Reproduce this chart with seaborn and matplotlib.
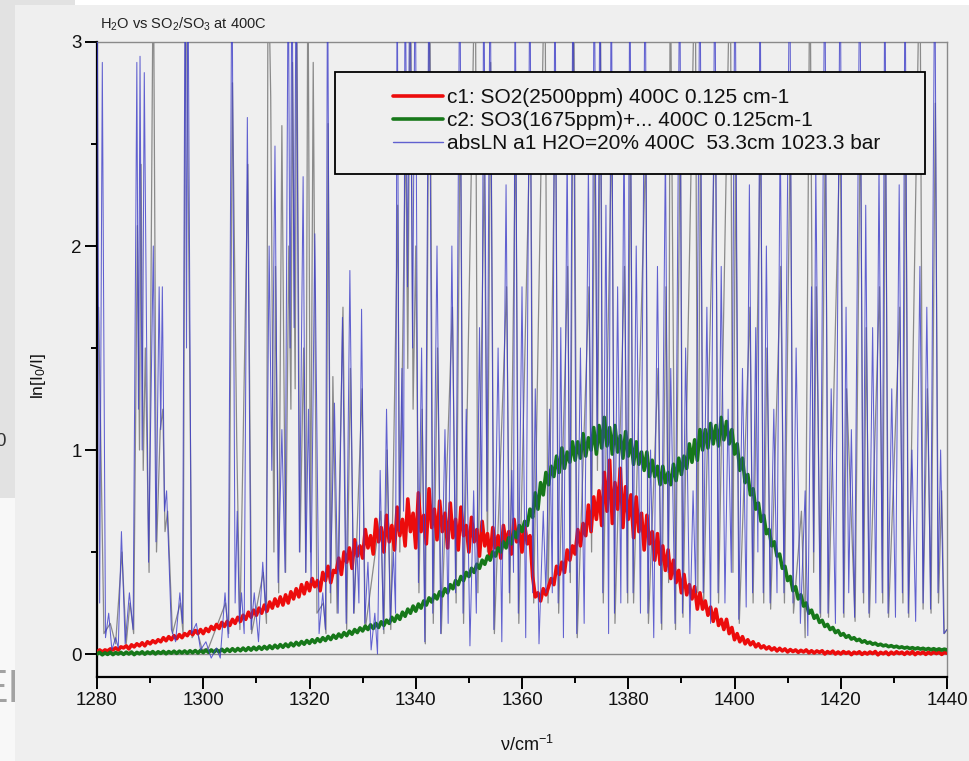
import numpy as np
import pandas as pd
import matplotlib
matplotlib.use("Agg")
import matplotlib.pyplot as plt
import seaborn as sns
from matplotlib.patches import Rectangle
from matplotlib.lines import Line2D
from matplotlib.ticker import MultipleLocator

# ---------------- data ----------------
wn_first, wn_step = 1280.0, 0.5   # sampling grid of the SO2 / SO3 traces

so2_abs = [
    0.01,0.02,0.01,0.02,0.015,0.025,0.02,0.03,0.02,0.035,
    0.03,0.04,0.025,0.045,0.035,0.05,0.04,0.055,0.04,0.06,
    0.05,0.065,0.055,0.07,0.06,0.08,0.065,0.085,0.07,0.09,
    0.075,0.095,0.08,0.1,0.09,0.11,0.095,0.115,0.1,0.12,
    0.1,0.125,0.11,0.135,0.12,0.145,0.125,0.155,0.135,0.16,
    0.14,0.17,0.15,0.18,0.16,0.19,0.17,0.205,0.18,0.215,
    0.19,0.225,0.2,0.24,0.21,0.255,0.225,0.27,0.235,0.28,
    0.24,0.29,0.25,0.305,0.27,0.32,0.28,0.34,0.295,0.35,
    0.31,0.37,0.33,0.36,0.31,0.40,0.36,0.43,0.35,0.41,
    0.40,0.47,0.39,0.50,0.45,0.52,0.42,0.56,0.48,0.53,
    0.47,0.61,0.52,0.58,0.49,0.66,0.55,0.62,0.50,0.68,
    0.55,0.63,0.51,0.72,0.58,0.66,0.53,0.76,0.60,0.69,
    0.52,0.79,0.60,0.68,0.54,0.81,0.62,0.71,0.56,0.75,
    0.60,0.69,0.52,0.74,0.57,0.66,0.51,0.72,0.58,0.63,
    0.50,0.67,0.55,0.61,0.48,0.65,0.53,0.59,0.47,0.62,
    0.52,0.58,0.47,0.63,0.54,0.60,0.49,0.66,0.55,0.61,
    0.50,0.63,0.54,0.58,0.38,0.28,0.30,0.26,0.32,0.29,
    0.33,0.37,0.34,0.43,0.39,0.45,0.40,0.51,0.46,0.53,
    0.49,0.61,0.53,0.64,0.58,0.73,0.60,0.77,0.66,0.80,
    0.63,0.89,0.70,0.95,0.64,0.84,0.71,0.91,0.62,0.82,
    0.66,0.78,0.57,0.77,0.60,0.69,0.51,0.68,0.54,0.60,
    0.46,0.59,0.44,0.53,0.41,0.51,0.37,0.46,0.35,0.41,
    0.30,0.39,0.29,0.34,0.27,0.33,0.22,0.30,0.22,0.26,
    0.19,0.23,0.16,0.22,0.14,0.17,0.12,0.17,0.10,0.13,
    0.07,0.10,0.06,0.085,0.05,0.07,0.045,0.06,0.035,0.05,
    0.03,0.04,0.025,0.035,0.02,0.03,0.015,0.028,0.015,0.025,
    0.01,0.022,0.012,0.02,0.008,0.018,0.01,0.02,0.006,0.016,
    0.005,0.015,0.008,0.016,0.0,0.012,0.004,0.014,0.0,0.01,
    0.0,0.012,0.003,0.01,-0.003,0.009,0.002,0.011,-0.002,0.008,
    0.0,0.01,0.002,0.012,-0.004,0.008,0.001,0.01,-0.003,0.009,
    0.0,0.011,0.002,0.009,-0.002,0.01,0.0,0.012,-0.003,0.008,
    0.001,0.01,-0.002,0.009,0.0,0.011,0.002,0.01,-0.002,0.008,
    0.004,
]

so3_abs = [
    0.0,0.008,-0.004,0.006,-0.002,0.009,-0.003,0.007,0.0,0.008,
    -0.002,0.009,0.0,0.01,-0.003,0.008,0.001,0.011,-0.001,0.01,
    0.002,0.012,0.0,0.011,0.003,0.013,0.001,0.012,0.004,0.014,
    0.003,0.014,0.005,0.015,0.004,0.016,0.006,0.017,0.005,0.018,
    0.007,0.019,0.008,0.02,0.009,0.021,0.01,0.023,0.011,0.024,
    0.013,0.026,0.014,0.027,0.016,0.029,0.017,0.031,0.019,0.033,
    0.021,0.035,0.023,0.037,0.025,0.04,0.027,0.043,0.03,0.046,
    0.033,0.049,0.036,0.053,0.04,0.057,0.044,0.061,0.048,0.066,
    0.052,0.07,0.056,0.075,0.061,0.08,0.066,0.086,0.071,0.092,
    0.077,0.098,0.083,0.105,0.09,0.112,0.097,0.12,0.105,0.128,
    0.113,0.137,0.12,0.143,0.125,0.15,0.13,0.158,0.14,0.166,
    0.15,0.18,0.16,0.19,0.17,0.205,0.185,0.22,0.2,0.235,
    0.21,0.245,0.225,0.26,0.24,0.275,0.255,0.29,0.27,0.305,
    0.285,0.32,0.30,0.34,0.32,0.36,0.34,0.38,0.36,0.40,
    0.38,0.42,0.40,0.44,0.42,0.46,0.44,0.48,0.46,0.50,
    0.48,0.52,0.50,0.55,0.52,0.57,0.54,0.60,0.57,0.63,
    0.60,0.65,0.63,0.71,0.67,0.79,0.71,0.84,0.78,0.89,
    0.83,0.92,0.87,0.97,0.89,1.01,0.91,0.99,0.94,1.04,
    0.95,1.04,0.96,1.08,0.97,1.06,1.0,1.11,0.98,1.12,
    1.01,1.16,1.02,1.11,0.98,1.12,0.99,1.07,0.96,1.09,
    0.97,1.05,0.93,1.04,0.93,0.99,0.9,0.99,0.87,0.95,
    0.87,0.92,0.83,0.92,0.84,0.89,0.83,0.93,0.85,0.96,
    0.88,0.97,0.91,1.03,0.94,1.05,0.95,1.1,1.0,1.1,
    1.01,1.13,1.03,1.12,1.02,1.16,1.05,1.14,1.03,1.1,
    0.98,1.03,0.9,0.96,0.84,0.88,0.78,0.81,0.71,0.74,
    0.65,0.68,0.59,0.61,0.53,0.55,0.48,0.49,0.42,0.43,
    0.36,0.38,0.31,0.33,0.27,0.29,0.235,0.25,0.2,0.215,
    0.175,0.19,0.155,0.165,0.135,0.145,0.12,0.13,0.105,0.115,
    0.092,0.1,0.082,0.09,0.073,0.08,0.066,0.072,0.058,0.065,
    0.053,0.058,0.048,0.053,0.043,0.048,0.04,0.044,0.036,0.041,
    0.034,0.038,0.031,0.035,0.029,0.033,0.027,0.031,0.025,0.03,
    0.024,0.028,0.022,0.027,0.021,0.026,0.02,0.025,0.019,0.024,
    0.02,
]

# H2O spectrum (blue, in legend): vertices (wavenumber, ln(I0/I)), peaks and valleys
h2o_blue = [
    (1280.0,3.5),(1280.5,0.25),(1281.0,2.9),(1281.6,0.08),(1282.2,0.2),(1282.8,0.02),
    (1283.5,0.08),(1284.0,0.03),(1284.6,0.6),(1285.3,0.05),(1286.1,0.3),(1286.8,0.12),
    (1287.5,2.9),(1287.8,1.2),(1288.1,2.93),(1288.5,1.0),(1288.9,2.85),(1289.7,0.45),
    (1290.6,2.0),(1291.1,0.55),(1291.7,1.8),(1292.0,1.1),(1292.3,1.8),(1292.7,0.7),
    (1293.1,0.8),(1294.0,0.12),(1294.8,0.06),(1295.6,0.3),(1296.1,0.15),(1296.6,3.5),
    (1296.85,1.5),(1297.1,3.5),(1297.8,0.1),(1298.7,0.15),(1299.5,0.02),(1300.5,0.06),
    (1301.5,-0.02),(1302.5,0.03),(1303.2,-0.02),(1304.1,0.3),(1304.7,0.08),(1305.4,3.5),
    (1306.0,0.25),(1306.4,0.7),(1306.8,0.15),(1307.2,0.3),(1307.7,0.1),(1308.3,2.63),
    (1309.0,0.12),(1309.6,0.3),(1310.4,0.06),(1311.2,0.45),(1311.8,0.2),(1312.4,2.0),
    (1312.9,0.9),(1313.5,2.49),(1314.1,0.35),(1314.8,1.1),(1315.4,0.4),(1316.0,3.5),
    (1316.35,1.5),(1316.7,3.5),(1317.1,1.6),(1317.5,3.5),(1318.1,0.5),(1318.8,2.34),
    (1319.3,0.4),(1319.8,1.2),(1320.3,0.35),(1321.0,2.06),(1321.8,0.1),(1322.5,0.3),
    (1323.0,0.12),(1323.4,3.5),(1323.9,0.3),(1324.7,1.23),(1325.4,0.2),(1326.2,1.65),
    (1326.9,0.15),(1327.6,1.88),(1328.3,0.2),(1328.9,0.55),(1329.3,0.25),(1329.8,1.69),
    (1330.4,0.15),(1331.0,0.45),(1331.6,0.02),(1332.3,0.2),(1332.8,0.0),(1333.3,0.9),
    (1333.9,0.12),(1334.5,1.2),(1335.2,0.15),(1335.8,0.5),(1336.2,0.2),(1336.5,3.5),
    (1336.9,0.6),(1337.4,1.4),(1337.7,0.7),(1338.0,3.5),(1338.45,1.8),(1338.9,3.5),
    (1339.4,1.5),(1339.9,3.5),(1340.5,0.35),(1341.1,1.5),(1341.7,0.06),(1342.5,3.5),
    (1343.2,0.2),(1344.0,2.0),(1344.7,0.1),(1345.5,1.1),(1346.1,0.15),(1346.8,2.0),
    (1347.5,0.3),(1348.3,3.5),(1348.9,0.2),(1349.5,1.2),(1350.2,0.04),(1350.9,0.8),
    (1351.4,0.2),(1352.0,1.6),(1352.4,0.6),(1352.8,3.5),(1353.4,0.7),(1354.0,3.5),
    (1354.7,0.12),(1355.5,1.5),(1356.2,0.06),(1357.0,2.3),(1357.6,0.3),(1358.1,0.9),
    (1358.4,0.4),(1358.7,3.5),(1359.3,0.2),(1360.0,1.8),(1360.7,0.08),(1361.5,3.5),
    (1362.0,0.3),(1362.5,1.3),(1363.2,0.05),(1364.0,0.7),(1364.5,0.3),(1365.2,1.2),
    (1365.7,0.3),(1366.2,3.5),(1366.8,0.25),(1367.3,1.6),(1367.8,0.08),(1368.5,2.5),
    (1369.0,0.4),(1369.6,3.5),(1370.3,0.1),(1371.0,1.5),(1371.7,0.15),(1372.5,2.4),
    (1373.05,0.6),(1373.6,3.5),(1374.15,1.0),(1374.7,3.5),(1375.2,0.3),(1375.8,2.2),
    (1376.3,0.1),(1376.8,3.5),(1377.4,0.2),(1378.0,1.8),(1378.6,0.25),(1379.2,2.6),
    (1379.8,0.3),(1380.3,3.5),(1380.9,0.3),(1381.5,2.0),(1382.3,0.2),(1383.2,3.5),
    (1383.7,0.2),(1384.2,1.0),(1384.8,0.08),(1385.5,1.9),(1386.2,0.15),(1387.0,2.5),
    (1387.5,0.4),(1388.0,1.4),(1388.8,0.15),(1389.7,3.5),(1390.2,0.2),(1390.8,1.5),
    (1391.6,0.1),(1392.2,0.8),(1392.7,0.3),(1393.5,3.5),(1394.1,0.3),(1394.8,1.7),
    (1395.5,0.15),(1396.3,3.5),(1396.9,0.3),(1397.5,1.9),(1398.2,0.25),(1398.8,1.2),
    (1399.4,0.4),(1400.1,3.5),(1400.8,0.17),(1401.5,1.4),(1402.2,0.23),(1402.8,2.3),
    (1403.4,0.3),(1404.0,1.6),(1404.4,0.5),(1404.8,3.5),(1405.4,0.3),(1406.0,2.0),
    (1406.7,0.25),(1407.4,1.2),(1408.0,0.3),(1408.6,2.6),(1409.3,0.3),(1410.4,3.5),
    (1411.0,0.25),(1411.6,1.5),(1412.4,0.15),(1413.3,0.8),(1413.8,0.09),(1414.5,1.8),
    (1414.9,0.5),(1415.3,2.4),(1416.1,0.2),(1417.0,3.5),(1417.6,0.2),(1418.2,1.3),
    (1419.0,0.15),(1419.9,3.5),(1420.5,0.2),(1421.0,1.7),(1421.5,0.3),(1422.0,1.1),
    (1422.6,0.18),(1423.6,3.5),(1424.2,0.3),(1424.7,2.2),(1425.3,0.2),(1426.0,1.6),
    (1426.6,0.25),(1427.2,2.4),(1427.8,0.3),(1428.3,3.5),(1428.9,0.2),(1429.6,1.3),
    (1430.3,0.18),(1431.0,2.3),(1431.6,0.3),(1432.1,3.5),(1432.7,0.2),(1433.4,1.0),
    (1434.1,0.16),(1434.9,1.9),(1435.5,0.25),(1436.2,1.7),(1436.9,0.22),(1437.7,3.5),
    (1438.3,0.3),(1438.8,1.0),(1439.4,0.1),(1440.0,0.12),
]

# companion H2O trace drawn in grey (not in legend)
h2o_grey = [
    (1280.3,1.7),(1281.3,0.1),(1282.5,0.15),(1283.5,0.05),(1284.7,0.5),(1285.5,0.05),
    (1286.2,0.25),(1286.9,0.1),(1287.6,2.1),(1288.0,1.0),(1288.3,2.4),(1288.7,0.9),
    (1289.1,1.5),(1289.8,0.4),(1290.6,3.5),(1291.2,0.5),(1291.9,1.1),(1292.4,1.2),
    (1292.8,0.6),(1293.3,0.7),(1294.2,0.1),(1295.7,0.25),(1296.2,0.1),(1296.7,3.5),
    (1297.2,2.2),(1297.9,0.08),(1298.8,0.12),(1299.8,0.02),(1301.0,0.03),(1304.2,0.25),
    (1304.8,0.1),(1305.5,2.8),(1306.3,1.05),(1306.9,0.12),(1308.4,2.4),(1309.1,0.1),
    (1311.3,0.4),(1311.9,0.15),(1312.2,3.5),(1312.7,2.73),(1313.3,0.5),(1313.6,1.9),
    (1314.2,0.3),(1314.8,2.59),(1315.5,0.4),(1316.1,2.0),(1316.5,1.2),(1316.8,2.9),
    (1317.3,1.3),(1317.6,3.2),(1318.2,0.5),(1318.9,1.5),(1319.3,0.4),(1319.7,3.5),
    (1320.2,0.5),(1320.7,2.9),(1321.4,0.2),(1322.6,0.25),(1323.1,0.1),(1323.5,2.6),
    (1324.0,0.25),(1324.4,1.36),(1325.2,0.2),(1326.3,1.7),(1327.0,0.12),(1327.7,1.4),
    (1328.4,0.2),(1329.9,1.3),(1330.5,0.12),(1333.4,0.7),(1334.0,0.1),(1334.6,1.0),
    (1335.3,0.12),(1336.6,2.2),(1337.0,0.5),(1338.1,2.6),(1338.5,1.4),(1339.0,3.5),
    (1339.5,1.2),(1340.0,2.0),(1340.6,0.3),(1341.2,1.2),(1341.8,0.05),(1342.6,3.5),
    (1343.3,0.15),(1344.1,1.5),(1344.8,0.1),(1346.9,1.7),(1347.6,0.25),(1348.4,2.8),
    (1349.0,0.15),(1351.2,3.5),(1351.7,0.3),(1352.9,2.4),(1353.5,0.5),(1354.1,2.9),
    (1354.8,0.1),(1357.1,1.8),(1357.7,0.25),(1358.8,2.6),(1359.4,0.15),(1361.6,2.7),
    (1362.2,0.25),(1364.3,3.5),(1364.9,0.25),(1366.3,2.8),(1366.9,0.2),(1368.6,1.9),
    (1369.1,0.35),(1369.7,3.5),(1370.4,0.08),(1372.6,1.8),(1373.1,0.5),(1373.7,2.7),
    (1374.2,0.9),(1374.8,3.0),(1375.3,0.25),(1376.9,2.6),(1377.5,0.15),(1379.3,1.9),
    (1379.9,0.25),(1380.4,2.7),(1381.0,0.25),(1383.3,2.5),(1383.8,0.15),(1385.6,1.4),
    (1386.3,0.12),(1387.1,1.8),(1387.6,0.35),(1387.9,3.5),(1388.9,0.12),(1389.8,2.7),
    (1390.3,0.18),(1392.6,3.5),(1393.1,0.3),(1393.6,2.6),(1394.2,0.25),(1396.4,2.7),
    (1397.0,0.25),(1399.2,3.5),(1399.7,0.4),(1400.2,2.5),(1400.9,0.15),(1402.9,1.7),
    (1403.5,0.25),(1404.9,2.6),(1405.5,0.25),(1406.1,1.5),(1406.8,0.22),(1408.7,1.9),
    (1409.4,0.25),(1410.5,2.6),(1411.1,0.2),(1412.6,0.7),(1413.3,0.08),(1414.2,3.5),
    (1414.9,0.4),(1415.4,1.8),(1416.2,0.18),(1417.1,2.6),(1417.7,0.18),(1419.9,2.6),
    (1420.6,0.18),(1421.1,1.3),(1422.7,0.16),(1423.7,2.7),(1424.3,0.25),(1424.8,1.6),
    (1425.4,0.18),(1427.3,1.8),(1427.9,0.25),(1428.4,2.7),(1429.0,0.18),(1431.1,1.7),
    (1431.7,0.25),(1432.2,2.7),(1432.8,0.18),(1434.9,3.5),(1435.5,0.22),(1436.3,1.3),
    (1437.0,0.2),(1437.8,2.7),(1438.4,0.25),(1439.0,0.8),(1439.5,0.1),(1440.0,0.12),
]

legend_labels = [
    "c1: SO2(2500ppm) 400C 0.125 cm-1",
    "c2: SO3(1675ppm)+... 400C 0.125cm-1",
    "absLN a1 H2O=20% 400C  53.3cm 1023.3 bar",
]
x_ticks_major, x_ticks_minor = 20, 10
y_ticks_major, y_ticks_minor = 1, 0.5

# ---------------- style ----------------
sns.set_theme(style="ticks")
plt.rcParams["font.family"] = ["Liberation Sans", "DejaVu Sans"]
plt.rcParams["mathtext.fontset"] = "custom"
plt.rcParams["mathtext.rm"] = "Liberation Sans"
plt.rcParams["mathtext.it"] = "Liberation Sans:italic"
plt.rcParams["mathtext.bf"] = "Liberation Sans:bold"
plt.rcParams["axes.unicode_minus"] = False

BG = "#efefef"
RED = "#ec0c0c"
GREEN = "#17781a"
BLUE = "#3c3cc8"
GREY = "#8a8a8a"

W, H = 970, 761
fig = plt.figure(figsize=(W / 100, H / 100), dpi=100, facecolor=BG)


def fx(px):
    return px / W


def fy(py):
    return 1 - py / H


def fig_rect(x0, y0, x1, y1, **kw):
    r = Rectangle((fx(x0), fy(y1)), (x1 - x0) / W, (y1 - y0) / H,
                  transform=fig.transFigure, **kw)
    fig.patches.append(r)
    return r


# screenshot surroundings
fig_rect(0, 0, 15, 498, fc="#e2e2e2", ec="none", zorder=-5)
fig_rect(0, 0, 75, 5, fc="#e2e2e2", ec="none", zorder=-5)
fig_rect(75, 0, 970, 5, fc="white", ec="none", zorder=-5)
fig_rect(0, 498, 15, 761, fc="#f8f8f8", ec="none", zorder=-5)
fig.text(fx(-23), fy(702), "EN", fontsize=33, color="#a2a2a2", va="baseline",
         ha="left", zorder=-4)
fig.text(fx(6), fy(442), "0", fontsize=13.5, color="#333333", va="center",
         ha="right", zorder=-4)
fig_rect(15, 498, 970, 761, fc=BG, ec="none", zorder=-3)

# axes
ax = fig.add_axes([fx(97), fy(677), 850 / W, 635 / H])
ax.set_facecolor(BG)

grid = wn_first + wn_step * np.arange(len(so2_abs))
df_so2 = pd.DataFrame({"wn": grid, "absorbance": so2_abs})
df_so3 = pd.DataFrame({"wn": grid, "absorbance": so3_abs})
df_blue = pd.DataFrame(h2o_blue, columns=["wn", "absorbance"])
df_grey = pd.DataFrame(h2o_grey, columns=["wn", "absorbance"])

ax.axhline(0, color=GREY, lw=1.0, zorder=1)
sns.lineplot(data=df_grey, x="wn", y="absorbance", ax=ax, color=GREY, lw=0.9,
             estimator=None, sort=False, zorder=2, legend=False)
sns.lineplot(data=df_so2, x="wn", y="absorbance", ax=ax, color=RED, lw=2.6,
             estimator=None, sort=False, zorder=3, legend=False)
sns.lineplot(data=df_so3, x="wn", y="absorbance", ax=ax, color=GREEN, lw=2.6,
             estimator=None, sort=False, zorder=4, legend=False)
sns.lineplot(data=df_blue, x="wn", y="absorbance", ax=ax, color=BLUE, lw=0.75,
             estimator=None, sort=False, zorder=5, legend=False, alpha=0.8)

ax.set_xlim(1280, 1440)
ax.set_ylim(-0.1127, 3.0)
ax.xaxis.set_major_locator(MultipleLocator(x_ticks_major))
ax.xaxis.set_minor_locator(MultipleLocator(x_ticks_minor))
ax.yaxis.set_major_locator(MultipleLocator(y_ticks_major))
ax.yaxis.set_minor_locator(MultipleLocator(y_ticks_minor))
ax.tick_params(which="major", direction="out", length=8.6, width=1.4,
               labelsize=13.5, pad=2.5, color="black", labelcolor="#111111")
ax.tick_params(which="minor", direction="out", length=4.3, width=1.4, color="black")
ax.tick_params(axis="both", which="both", top=False, right=False)

for side in ("left", "bottom"):
    ax.spines[side].set_color("black")
    ax.spines[side].set_linewidth(1.6)
for side in ("top", "right"):
    ax.spines[side].set_color(GREY)
    ax.spines[side].set_linewidth(1.0)

ax.set_xlabel("ν/cm$^{-1}$", fontsize=13, color="#111111", va="center")
ax.xaxis.set_label_coords((527 - 97) / 850, -(745 - 677) / 635)
ax.set_ylabel("ln[I$_0$/I]", fontsize=12.5, color="#111111", va="center",
              ha="center", rotation_mode="default")
ax.yaxis.set_label_coords((38 - 97) / 850, (677 - 376) / 635)

fig.text(fx(100), fy(29), "H$_2$O vs SO$_2$/SO$_3$ at 400C", fontsize=10.5,
         color="#222222", va="baseline", ha="left")

# legend box and entries
fig_rect(335, 72, 925, 174, fc=BG, ec="black", lw=1.3, zorder=4)
handles = [Line2D([], [], color=RED, lw=2.6),
           Line2D([], [], color=GREEN, lw=2.6),
           Line2D([], [], color=BLUE, lw=1.0, alpha=0.8)]
fs_leg = 15
fig.legend(handles, legend_labels, loc="upper left",
           bbox_to_anchor=(fx(393), fy(88)), bbox_transform=fig.transFigure,
           frameon=False, fontsize=fs_leg, borderpad=0, borderaxespad=0,
           handlelength=50 / (fs_leg * 100 / 72), handletextpad=0.2,
           labelspacing=0.2, labelcolor="#111111")

fig.savefig("out.png", dpi=100, facecolor=fig.get_facecolor())
